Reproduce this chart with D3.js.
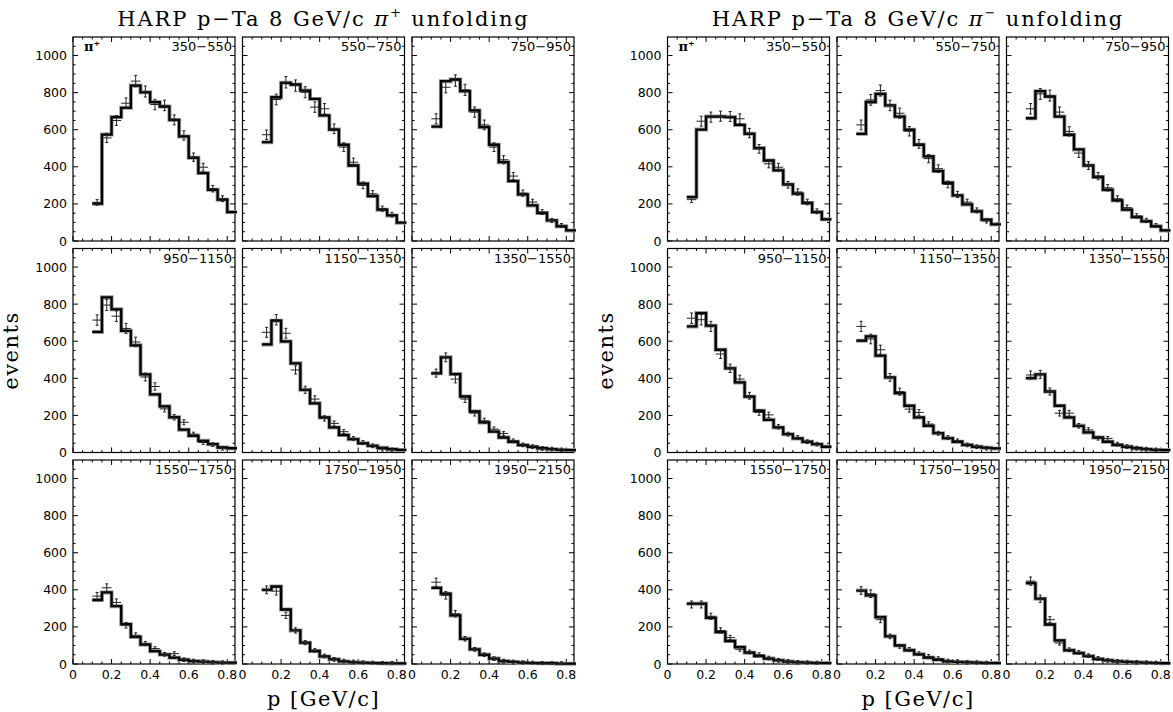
<!DOCTYPE html>
<html>
<head>
<meta charset="utf-8">
<script src="https://cdn.jsdelivr.net/npm/d3@7"></script>
<style>
  body { margin: 0; background: #fff; }
  svg text { fill: #000; }
  .tick-label { font-family: "DejaVu Sans", sans-serif; font-size: 12.5px; }
  .range-label { font-family: "DejaVu Sans", sans-serif; font-size: 13px; }
  .serif { font-family: "DejaVu Serif", serif; }
</style>
</head>
<body>
<div id="chart"></div>
<script>
// bin edges and centres in p [GeV/c]
const pEdges = [0.10, 0.15, 0.20, 0.25, 0.30, 0.35, 0.40, 0.45, 0.50, 0.55, 0.60, 0.65, 0.70, 0.75, 0.80, 0.85];
const pCenters = [0.125, 0.175, 0.225, 0.275, 0.325, 0.375, 0.425, 0.475, 0.525, 0.575, 0.625, 0.675, 0.725, 0.775];

// theta ranges (mrad), one per panel
const thetaRanges = ['350\u2212550', '550\u2212750', '750\u2212950', '950\u22121150', '1150\u22121350',
  '1350\u22121550', '1550\u22121750', '1750\u22121950', '1950\u22122150'];

const xTicks = [0, 0.2, 0.4, 0.6, 0.8];
const yTicks = [0, 200, 400, 600, 800, 1000];

// pi+ : unfolded histogram (15 bins) and measured points (14 points)
const piPlusUnfolded = [
  [201, 574, 668, 718, 838, 802, 749, 725, 653, 564, 449, 366, 276, 223, 156],
  [533, 775, 853, 844, 811, 766, 677, 601, 519, 407, 309, 242, 169, 138, 99],
  [617, 862, 871, 808, 704, 614, 519, 425, 323, 251, 192, 151, 111, 79, 57],
  [650, 837, 772, 656, 578, 421, 313, 249, 190, 123, 90, 63, 45, 27, 23],
  [583, 711, 599, 481, 338, 265, 189, 135, 94, 72, 50, 36, 25, 18, 14],
  [427, 513, 423, 302, 221, 162, 113, 81, 58, 40, 31, 23, 18, 14, 13],
  [345, 386, 312, 215, 146, 105, 69, 51, 34, 23, 16, 13, 9, 7, 7],
  [400, 418, 294, 181, 115, 70, 41, 25, 14, 9, 7, 5, 4, 3, 3],
  [411, 379, 262, 136, 79, 50, 29, 16, 11, 7, 5, 4, 4, 2, 2]
];
const piPlusMeasured = [
  [208, 556, 650, 743, 862, 806, 736, 731, 653, 569, 452, 398, 282, 228],
  [573, 763, 856, 838, 802, 722, 713, 605, 506, 425, 300, 255, 174, 142],
  [659, 829, 865, 815, 695, 626, 506, 438, 350, 258, 210, 156, 111, 84],
  [714, 795, 735, 669, 596, 407, 356, 235, 190, 163, 99, 54, 42, 23],
  [648, 716, 643, 445, 338, 288, 184, 157, 112, 76, 54, 36, 18, 14],
  [428, 513, 396, 288, 212, 171, 126, 103, 63, 41, 31, 22, 18, 14],
  [366, 411, 332, 209, 155, 110, 83, 52, 56, 23, 16, 13, 9, 7],
  [400, 393, 262, 181, 115, 74, 43, 25, 16, 11, 7, 5, 4, 4],
  [441, 370, 271, 136, 79, 50, 29, 16, 11, 7, 5, 4, 2, 2]
];

// pi- : unfolded histogram and measured points
const piMinusUnfolded = [
  [237, 601, 671, 671, 668, 626, 578, 501, 434, 381, 305, 255, 205, 156, 117],
  [578, 749, 793, 731, 671, 600, 519, 456, 377, 314, 246, 197, 160, 115, 90],
  [662, 808, 779, 671, 573, 494, 407, 345, 276, 219, 169, 129, 106, 79, 57],
  [680, 752, 684, 554, 454, 378, 301, 225, 176, 135, 99, 76, 58, 45, 31],
  [603, 626, 522, 405, 320, 252, 189, 144, 104, 77, 58, 41, 31, 25, 22],
  [401, 421, 329, 252, 189, 144, 108, 81, 58, 41, 31, 23, 18, 14, 13],
  [325, 325, 249, 172, 124, 91, 61, 43, 29, 20, 13, 9, 7, 5, 5],
  [396, 370, 253, 149, 100, 74, 52, 34, 23, 14, 11, 9, 7, 5, 5],
  [436, 352, 213, 127, 74, 59, 43, 27, 20, 14, 11, 9, 7, 5, 4]
];
const piMinusMeasured = [
  [223, 646, 668, 673, 671, 659, 582, 497, 416, 398, 303, 264, 210, 160],
  [626, 761, 811, 731, 689, 592, 524, 444, 390, 305, 251, 210, 165, 108],
  [713, 793, 784, 695, 591, 474, 407, 350, 287, 228, 180, 135, 111, 84],
  [724, 716, 680, 531, 454, 396, 306, 216, 203, 139, 99, 81, 58, 45],
  [680, 612, 554, 405, 328, 234, 216, 153, 104, 81, 63, 41, 31, 23],
  [418, 421, 329, 212, 212, 144, 122, 77, 76, 45, 32, 23, 18, 14],
  [321, 321, 257, 181, 142, 79, 65, 50, 32, 20, 14, 9, 7, 5],
  [396, 379, 239, 149, 95, 79, 56, 41, 29, 16, 13, 9, 7, 5],
  [447, 352, 239, 113, 77, 63, 45, 30, 20, 14, 11, 9, 7, 5]
];

const width = 1173, height = 712;
const panelW = 162, panelH = 204;
const gapX = 7.5, gapY = 7.5;
const marginTop = 37;

const groups = [
  { x0: 73, sign: '+', hist: piPlusUnfolded, data: piPlusMeasured },
  { x0: 667.5, sign: '\u2212', hist: piMinusUnfolded, data: piMinusMeasured }
];

const svg = d3.select('#chart').append('svg')
    .attr('width', width)
    .attr('height', height);

const x = d3.scaleLinear().domain([0, 0.84]).range([0, panelW]);
const y = d3.scaleLinear().domain([0, 1100]).range([panelH, 0]);

const step = d3.line()
    .x(d => x(d[0]))
    .y(d => y(d[1]))
    .curve(d3.curveStepAfter);

groups.forEach(group => {
  const groupW = 3 * panelW + 2 * gapX;
  const cx = group.x0 + groupW / 2;

  // title
  const title = svg.append('text')
      .attr('class', 'serif')
      .attr('x', cx)
      .attr('y', 26)
      .attr('text-anchor', 'middle')
      .attr('font-size', 21)
      .attr('letter-spacing', 1.9);
  title.append('tspan').text('HARP p\u2212Ta 8 GeV/c ');
  title.append('tspan').attr('font-style', 'italic').text('\u03c0');
  title.append('tspan').attr('font-size', 13).attr('dy', -9).text(group.sign);
  title.append('tspan').attr('dy', 9).text(' unfolding');

  // axis titles
  svg.append('text')
      .attr('class', 'serif')
      .attr('transform', 'translate(' + (group.x0 - 55) + ',' + (marginTop + (3 * panelH + 2 * gapY) / 2) + ') rotate(-90)')
      .attr('text-anchor', 'middle')
      .attr('font-size', 21)
      .attr('letter-spacing', 1.5)
      .text('events');

  svg.append('text')
      .attr('class', 'serif')
      .attr('x', cx)
      .attr('y', 706)
      .attr('text-anchor', 'middle')
      .attr('font-size', 21)
      .attr('letter-spacing', 1.5)
      .text('p [GeV/c]');

  thetaRanges.forEach((range, i) => {
    const row = Math.floor(i / 3), col = i % 3;
    const g = svg.append('g')
        .attr('transform', 'translate(' + (group.x0 + col * (panelW + gapX)) + ',' + (marginTop + row * (panelH + gapY)) + ')');

    // ticks, mirrored on all four sides, pointing inward
    const xt = d3.range(0, 0.84, 0.05);
    xt.forEach(v => {
      const len = Math.abs(v * 5 - Math.round(v * 5)) < 1e-6 ? 5 : 2.5;
      g.append('line').attr('x1', x(v)).attr('x2', x(v)).attr('y1', panelH).attr('y2', panelH - len).attr('stroke', '#000');
      g.append('line').attr('x1', x(v)).attr('x2', x(v)).attr('y1', 0).attr('y2', len).attr('stroke', '#000');
    });
    const yt = d3.range(0, 1100, 50);
    yt.forEach(v => {
      const len = v % 200 === 0 ? 5 : 2.5;
      g.append('line').attr('y1', y(v)).attr('y2', y(v)).attr('x1', 0).attr('x2', len).attr('stroke', '#000');
      g.append('line').attr('y1', y(v)).attr('y2', y(v)).attr('x1', panelW).attr('x2', panelW - len).attr('stroke', '#000');
    });

    g.append('rect')
        .attr('width', panelW)
        .attr('height', panelH)
        .attr('fill', 'none')
        .attr('stroke', '#000')
        .attr('stroke-width', 1.2);

    // y tick labels on the first column
    if (col === 0) {
      g.selectAll('.ylab').data(yTicks).enter().append('text')
          .attr('class', 'tick-label')
          .attr('x', -6)
          .attr('y', d => y(d) + 4.5)
          .attr('text-anchor', 'end')
          .text(d => d);
    }
    // x tick labels on the bottom row
    if (row === 2) {
      g.selectAll('.xlab').data(xTicks).enter().append('text')
          .attr('class', 'tick-label')
          .attr('x', d => x(d))
          .attr('y', panelH + 15)
          .attr('text-anchor', 'middle')
          .text(d => d === 0 ? '0' : d3.format('.1f')(d));
    }

    // theta range label
    g.append('text')
        .attr('class', 'range-label')
        .attr('x', panelW - 3)
        .attr('y', 14)
        .attr('text-anchor', 'end')
        .text(range);

    if (i === 0) {
      const pl = g.append('text')
          .attr('class', 'serif')
          .attr('x', 11)
          .attr('y', 14)
          .attr('font-size', 13)
          .attr('font-weight', 'bold');
      pl.append('tspan').text('\u03c0');
      pl.append('tspan').attr('font-size', 8).attr('dy', -5).text('+');
    }

    // unfolded histogram
    const h = group.hist[i];
    const pts = h.map((v, k) => [pEdges[k], v]);
    pts.push([pEdges[pEdges.length - 1], h[h.length - 1]]);

    const marks = g.append('g');
    marks.append('path')
        .datum(pts)
        .attr('fill', 'none')
        .attr('stroke', '#999')
        .attr('stroke-width', 4)
        .attr('d', step);
    marks.append('path')
        .datum(pts)
        .attr('fill', 'none')
        .attr('stroke', '#000')
        .attr('stroke-width', 2.3)
        .attr('d', step);

    // measured points with error crosses
    const d = group.data[i];
    d.forEach((v, k) => {
      const err = Math.max(10, 1.05 * Math.sqrt(v));
      const px = x(pCenters[k]), py = y(v);
      const x1 = x(pCenters[k] - 0.025), x2 = x(pCenters[k] + 0.025);
      const y1 = y(v + err), y2 = y(Math.max(0, v - err));
      marks.append('line').attr('x1', x1).attr('x2', x2).attr('y1', py).attr('y2', py)
          .attr('stroke', '#222').attr('stroke-width', 1);
      marks.append('line').attr('x1', px).attr('x2', px).attr('y1', y1).attr('y2', y2)
          .attr('stroke', '#222').attr('stroke-width', 1);
      [y1, y2].forEach(yy => {
        marks.append('line').attr('x1', px - 1.5).attr('x2', px + 1.5).attr('y1', yy).attr('y2', yy)
            .attr('stroke', '#222').attr('stroke-width', 1);
      });
    });
  });
});
</script>
</body>
</html>
